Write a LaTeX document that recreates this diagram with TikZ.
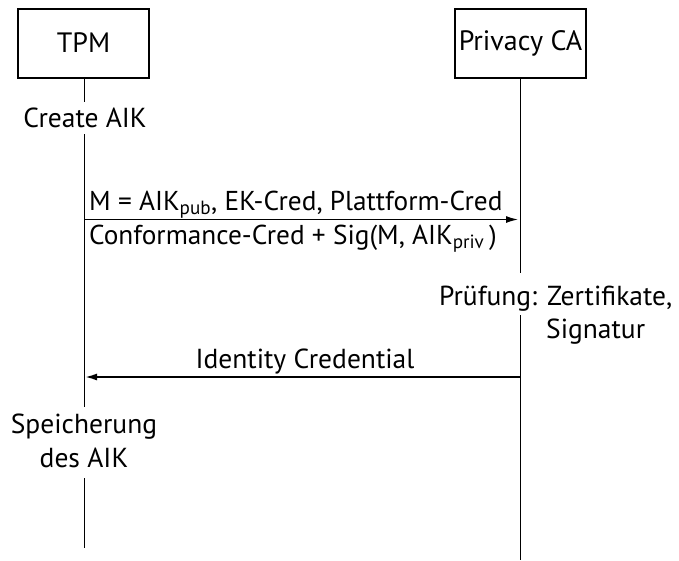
\documentclass[tikz,border=0pt]{standalone}
\usepackage{fontspec}
\setmainfont{PT Sans}
\usetikzlibrary{arrows.meta}
\begin{document}
\begin{tikzpicture}[x=1pt,y=-1pt,
  actor/.style={draw,line width=1.2pt,minimum width=131pt,minimum height=69pt,inner sep=0pt,font=\fontsize{28}{32}\selectfont},
  lbl/.style={inner sep=0pt,font=\fontsize{27.5}{32}\selectfont},
  msg/.style={inner sep=0pt,font=\fontsize{27.3}{31}\selectfont},
  life/.style={line width=1pt},
  arr/.style={line width=1.2pt,-{Latex[length=12pt,width=7pt]}}]
\useasboundingbox (0,0) rectangle (679,560);
\node[actor] (tpm) at (83.5,43.5) {\raisebox{2pt}{TPM}};
\node[actor] (pca) at (520.5,43.5) {\raisebox{2pt}{Privacy CA}};
% TPM lifeline
\coordinate (t1) at (84,102);
\coordinate (t2) at (84,134);
\coordinate (t3) at (84,407);
\coordinate (t4) at (84,478);
\coordinate (t5) at (84,548);
\node[lbl,anchor=base] (create) at (85,127) {Create AIK};
\draw[life] (tpm.south -| t1) -- (t1);
\draw[life] (t2) -- (t3);
\draw[life] (t4) -- (t5);
\node[lbl,anchor=base] (spe1) at (84,433) {Speicherung};
\node[lbl,anchor=base] (spe2) at (84,467) {des AIK};
% PCA lifeline
\coordinate (p1) at (520,273);
\coordinate (p2) at (520,315);
\coordinate (p3) at (520,560);
\draw[life] (pca.south -| p1) -- (p1);
\draw[life] (p2) -- (p3);
% message 1
\coordinate (m1a) at (84,219.5);
\coordinate (m1b) at (518,219.5);
\draw[arr] (m1a) -- (m1b);
\node[msg,anchor=base west] (m1t) at (89,210) {M = AIK\textsubscript{pub}, EK-Cred, Plattform-Cred};
\node[msg,anchor=base west] (m1u) at (89,244) {Conformance-Cred + Sig(M, AIK\textsubscript{priv}\,)};
% check
\node[lbl,anchor=base west] (chk1) at (439,305) {Prüfung: Zertifikate,};
\node[lbl,anchor=base west] (chk2) at (546,338) {Signatur};
% message 2
\coordinate (m2a) at (520,377);
\coordinate (m2b) at (85,377);
\draw[arr,line width=1.8pt] (m2a) -- (m2b);
\node[lbl,anchor=base] (m2t) at (305,368) {Identity Credential};
\end{tikzpicture}
\end{document}
